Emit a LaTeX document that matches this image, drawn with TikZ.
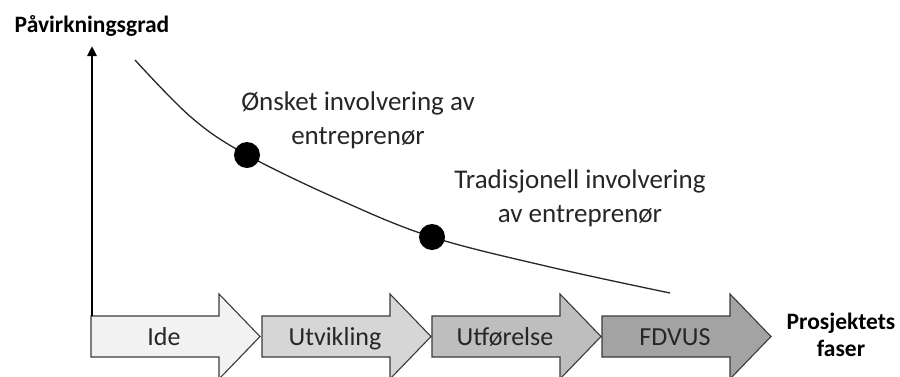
\documentclass[tikz,border=0pt]{standalone}
\usepackage{fontspec}
\setmainfont{Carlito}
\usetikzlibrary{arrows.meta}
\definecolor{ideF}{HTML}{F2F2F2}
\definecolor{utvF}{HTML}{D6D6D6}
\definecolor{utfF}{HTML}{BEBEBE}
\definecolor{fdvF}{HTML}{A3A3A3}
\definecolor{inkG}{HTML}{262626}
\definecolor{edgeG}{HTML}{3A3A3A}
\begin{document}
\begin{tikzpicture}[x=1pt,y=-1pt,
  phase/.style={draw=edgeG,line width=1.1pt,line join=miter},
  phasetext/.style={text=inkG,font=\fontsize{26}{30}\selectfont,anchor=base},
  axislabel/.style={text=black,font=\fontsize{23.5}{27}\selectfont\bfseries,align=center},
  note/.style={text=inkG,font=\fontsize{27}{34}\selectfont,align=center},
  dot/.style={circle,fill=black,inner sep=0pt,minimum size=26pt},
  curve/.style={draw=inkG,line width=1.3pt},
  axis/.style={draw=black,line width=2.6pt,-{Triangle[width=9pt,length=10pt]}}]
\useasboundingbox (0,0) rectangle (900,376);

% phase arrows along the bottom
\foreach \x/\c/\t/\n in {91/ideF/Ide/ide, 262/utvF/Utvikling/utv, 432/utfF/Utførelse/utf, 602/fdvF/FDVUS/fdv}{
  \draw[phase,fill=\c] (\x,316) -- ({\x+128},316) -- ({\x+128},294) -- ({\x+169},336.5)
    -- ({\x+128},379) -- ({\x+128},357) -- (\x,357) -- cycle;
  \node[phasetext] (\n) at ({\x+73},345) {\t};
}

% vertical axis
\coordinate (origin) at (92,316);
\coordinate (ytop) at (92,46);
\draw[axis] (origin) -- (ytop);
\node[axislabel] (ylab) at (92,26) {Påvirkningsgrad};
\node[axislabel] (xlab) at (841,335) {Prosjektets\\faser};

% influence curve
\draw[curve] plot[smooth,tension=0.6] coordinates
  {(135,60) (192,118) (247,155) (340,200) (432,237) (550,267) (670,293)};

% involvement points
\node[dot] (early) at (247,155) {};
\node[dot] (late) at (432,237) {};
\node[note] (earlylab) at (358,120) {Ønsket involvering av\\entreprenør};
\node[note] (latelab) at (580,198) {Tradisjonell involvering\\av entreprenør};
\end{tikzpicture}
\end{document}
